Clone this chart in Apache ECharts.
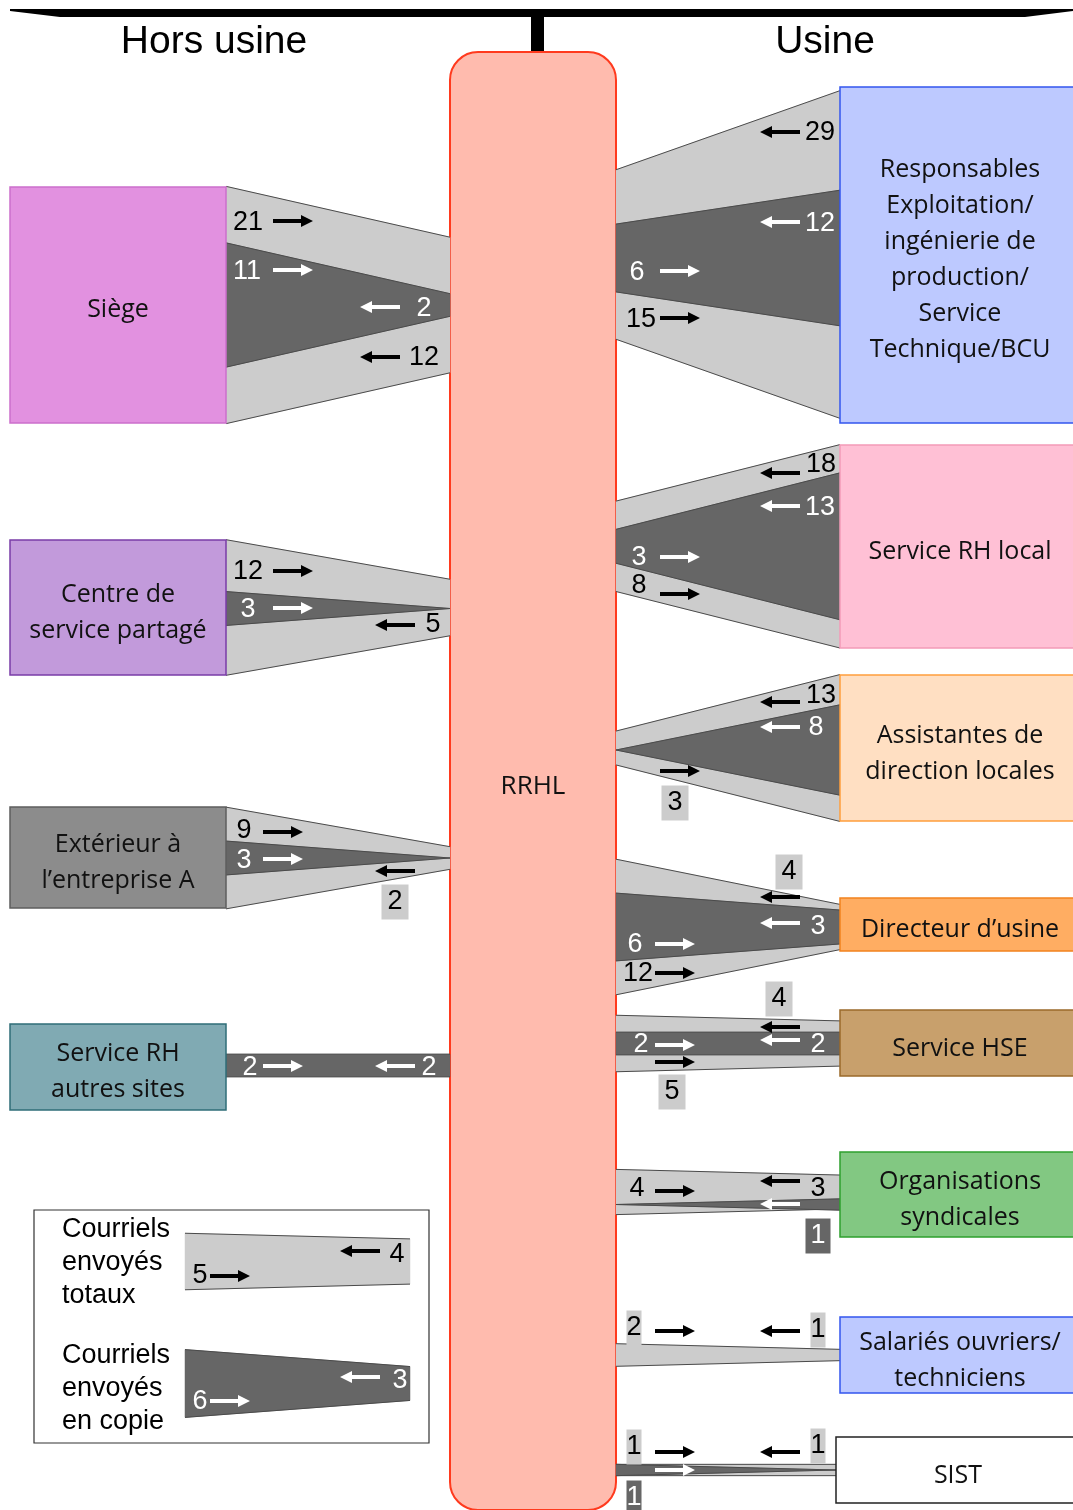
<!DOCTYPE html>
<html><head><meta charset="utf-8">
<script src="https://cdn.jsdelivr.net/npm/echarts@6/dist/echarts.min.js"></script>
<style>html,body{margin:0;padding:0;background:#fff}#chart{width:1073px;height:1510px}</style>
</head><body><div id="chart"></div>
<script>
// ================= DATA =================
const linkNodes = ['Siège','Centre de service partagé','Extérieur à l’entreprise A','Service RH autres sites',
  'Responsables Exploitation/ingénierie de production/Service Technique/BCU','Service RH local',
  'Assistantes de direction locales','Directeur d’usine','Service HSE','Organisations syndicales',
  'Salariés ouvriers/techniciens','SIST'];
// e-mails sent by the node to RRHL (total / in copy) and by RRHL to the node (total / in copy)
const totalFromNode = [21,12,9,0,29,18,13,4,4,3,1,1];
const totalFromRRHL = [12,5,2,0,15,8,3,12,5,4,2,1];
const copyFromNode  = [11,3,3,2,12,13,8,3,2,1,0,0];
const copyFromRRHL  = [2,0,0,2,6,3,0,6,2,0,0,1];
const legendTotal = [5,4];
const legendCopy = [6,3];
const nodeLabels = ['Siège','Centre de\nservice partagé','Extérieur à\nl’entreprise A','Service RH\nautres sites',
  'Responsables\nExploitation/\ningénierie de\nproduction/\nService\nTechnique/BCU','Service RH local',
  'Assistantes de\ndirection locales','Directeur d’usine','Service HSE','Organisations\nsyndicales',
  'Salariés ouvriers/\ntechniciens','SIST'];
const hubLabel = 'RRHL';
const zoneLabels = ['Hors usine','Usine'];
const legendLabels = ['Courriels\nenvoyés\ntotaux','Courriels\nenvoyés\nen copie'];

// ================= LAYOUT / STYLE =================
const K = 11.3; // axis units per e-mail
const TDY = 2;  // text baseline nudge
const boxLayout = [ // [x0,x1,y0,y1,labelX,labelY]
 [10,226,187,423,118,308],[10,226,540,675,118,611],[10,226,807,908,118,861],[10,226,1024,1110,118,1070],
 [840,1076,87,423,960,258],[840,1076,445,648,960,550],[840,1076,675,821,960,752],[840,1076,898,951,960,928],
 [840,1076,1010,1076,960,1047],[840,1076,1152,1237,960,1198],[840,1076,1317,1393,960,1359],[836,1076,1437,1503,958,1474]
];
const boxStyle = [
 ['#E291E0','#CC6FCB'],['#C29ADB','#7A3DA8'],['#8C8C8C','#5E5E5E'],['#80AAB3','#2F6E78'],
 ['#BDC9FF','#3355EE'],['#FFC0D5','#F49BB8'],['#FFDFC2','#FF9E3D'],['#FFAD62','#F2821E'],
 ['#C8A06C','#9A6A2A'],['#82C882','#2EA02E'],['#BDC9FF','#3355EE'],['#FFFFFF','#222222']
];
const linkLayout = [ // [nodeX, hubX, centerY light, centerY dark]
 [226,450,305,305],[226,450,607.5,608.5],[226,450,858,858],[226,450,1065.5,1065.5],
 [840,616,254.5,258],[840,616,546.3,546.3],[840,616,748,750],[840,616,927,927],
 [840,616,1043.5,1043.5],[840,616,1192,1204.5],[840,616,1355,1355],[836,616,1470,1470]
];
// [nodeTotal, hubTotal, nodeCopy, hubCopy] -> [textX,textY,arrowX,arrowY,boxType]
const labelLayout = [
 [[248,221,273,221,0],[424,356,360,357,0],[247,270,273,270,0],[424,307,360,307,0]],
 [[248,570,273,571,0],[433,623,375,625,0],[248,608,273,608,0],null],
 [[244,829,263,832,0],[395,900,375,871,1],[244,859,263,859,0],null],
 [null,null,[250,1066,263,1066,0],[429,1066,375,1066,0]],
 [[820,131,760,132,0],[641,318,660,318,0],[820,222,760,222,0],[637,271,660,271,0]],
 [[821,463,760,473,0],[639,584,660,594,0],[820,506,760,506,0],[639,556,660,557,0]],
 [[821,694,760,702,0],[675,801,660,771,1],[816,726,760,727,0],null],
 [[789,870,760,897,1],[638,972,655,973,0],[818,925,760,923,0],[635,943,655,944,0]],
 [[779,997,760,1027,1],[672,1090,655,1062,1],[818,1043,760,1040,0],[641,1043,655,1045,0]],
 [[818,1187,760,1181,0],[637,1187,655,1191,0],[818,1234,760,1204,2],null],
 [[818,1328,760,1331,3],[634,1326,655,1331,3],null,null],
 [[818,1444,760,1452,3],[634,1445,655,1452,3],null,[634,1496,655,1470,4]]
];
const hubBox = [450,616,52,1510];
const legendBox = [34,429,1210,1443];
const legendBands = [[185,410,1261.5],[185,410,1383.5]];
const legendLabelPos = [[200,1274,210,1276],[397,1253,340,1251],[200,1400,210,1401],[400,1379,340,1377]];
const LIGHT = '#CCCCCC', DARK = '#666666', EDGE = '#4A4A4A';
const NUM_FONT = '27px "Liberation Sans", Arial, sans-serif';
const NODE_FONT = '25px "Open Sans", "Noto Sans", sans-serif';
const BOX_PAD = {1:[2,6],2:[2,5],3:[2,0],4:[2,0]};

// ================= HELPERS =================
function bandShapes(api, x0, x1, yc, w0, w1, fill){
  if (w0 <= 0 && w1 <= 0) return [];
  const a = api.coord([x0, yc]), b = api.coord([x1, yc]);
  const h0 = api.size([0, w0*K])[1], h1 = api.size([0, w1*K])[1];
  const top = [[a[0], a[1]-h0/2],[b[0], b[1]-h1/2]];
  const bot = [[a[0], a[1]+h0/2],[b[0], b[1]+h1/2]];
  return [
    {type:'polygon', shape:{points:[top[0],top[1],bot[1],bot[0]]}, style:{fill:fill, stroke:fill, lineWidth:0.5}},
    {type:'polyline', shape:{points:top}, style:{stroke:EDGE, lineWidth:1, fill:null}},
    {type:'polyline', shape:{points:bot}, style:{stroke:EDGE, lineWidth:1, fill:null}}
  ];
}
function arrow(api, x, y, dir, color){
  const p = api.coord([x, y]); const L = 40, hl = 12, hw = 6, sw = 2;
  const xs = dir > 0 ? p[0] : p[0] + L, s = dir;
  const xe = xs + s*L, xh = xe - s*hl, yy = p[1];
  return {type:'polygon', shape:{points:[[xs,yy-sw],[xh,yy-sw],[xh,yy-hw],[xe,yy],[xh,yy+hw],[xh,yy+sw],[xs,yy+sw]]},
          style:{fill:color}};
}
function numText(api, x, y, txt, color, box){
  const p = api.coord([x, y + TDY]);
  const st = {x:p[0], y:p[1], text:txt, fill:color, font:NUM_FONT, align:'center', verticalAlign:'middle'};
  if (box) {
    st.backgroundColor = (box === 2 || box === 4) ? DARK : LIGHT;
    st.fill = (box === 2 || box === 4) ? '#FFFFFF' : '#000000';
    st.padding = BOX_PAD[box];
    st.lineHeight = 31;
  }
  return {type:'text', style:st};
}

const linkData = linkNodes.map((n,i)=>[i, totalFromNode[i], totalFromRRHL[i], copyFromNode[i], copyFromRRHL[i]]);

const chart = echarts.init(document.getElementById('chart'), null, {renderer:'canvas'});
chart.setOption({
  animation:false,
  grid:{left:0,right:0,top:0,bottom:0},
  xAxis:{type:'value',min:0,max:1073,show:false},
  yAxis:{type:'value',min:0,max:1510,inverse:true,show:false},
  graphic:[
    {type:'polygon', shape:{points:[[10,9],[1073,9],[1073,11],[1025,17],[60,17],[10,11]]}, style:{fill:'#000'}},
    {type:'rect', shape:{x:531,y:12,width:13,height:41}, style:{fill:'#000'}},
    {type:'text', x:214, y:42, style:{text:zoneLabels[0], font:'39px "Liberation Sans", Arial, sans-serif', fill:'#000', align:'center', verticalAlign:'middle'}},
    {type:'text', x:825, y:42, style:{text:zoneLabels[1], font:'39px "Liberation Sans", Arial, sans-serif', fill:'#000', align:'center', verticalAlign:'middle'}}
  ],
  series:[
    { // hub box
      type:'custom', coordinateSystem:'cartesian2d', clip:false, silent:true,
      data:[[0, 0]],
      renderItem:function(params, api){
        const a = api.coord([hubBox[0], hubBox[2]]), b = api.coord([hubBox[1], hubBox[3]]);
        const c = api.coord([(hubBox[0]+hubBox[1])/2, 785 + TDY]);
        return {type:'group', children:[
          {type:'rect', shape:{x:a[0], y:a[1], width:b[0]-a[0], height:b[1]-a[1], r:28}, style:{fill:'#FFBBAE', stroke:'#FF3A1E', lineWidth:2}},
          {type:'text', style:{x:c[0], y:c[1], text:hubLabel, font:'26px "Open Sans", "Noto Sans", sans-serif', fill:'#111', align:'center', verticalAlign:'middle'}}
        ]};
      }
    },
    { // links (bands)
      type:'custom', coordinateSystem:'cartesian2d', clip:false, silent:true,
      data:linkData,
      renderItem:function(params, api){
        const i = params.dataIndex; const [xN, xH, yL, yD] = linkLayout[i];
        const ch = [].concat(
          bandShapes(api, xN, xH, yL, api.value(1), api.value(2), LIGHT),
          bandShapes(api, xN, xH, yD, api.value(3), api.value(4), DARK)
        );
        return {type:'group', children:ch};
      }
    },
    { // nodes
      type:'custom', coordinateSystem:'cartesian2d', clip:false, silent:true,
      data:nodeLabels.map((n,i)=>[i, 0]),
      renderItem:function(params, api){
        const i = params.dataIndex; const L = boxLayout[i];
        const a = api.coord([L[0], L[2]]), b = api.coord([L[1], L[3]]), c = api.coord([L[4], L[5] + TDY]);
        return {type:'group', children:[
          {type:'rect', shape:{x:a[0], y:a[1], width:b[0]-a[0], height:b[1]-a[1]}, style:{fill:boxStyle[i][0], stroke:boxStyle[i][1], lineWidth:1.5}},
          {type:'text', style:{x:c[0], y:c[1], text:nodeLabels[i], font:NODE_FONT, lineHeight:36, fill:'#111', align:'center', verticalAlign:'middle'}}
        ]};
      }
    },
    { // link labels
      type:'custom', coordinateSystem:'cartesian2d', clip:false, silent:true,
      data:linkData,
      renderItem:function(params, api){
        const i = params.dataIndex; const [xN, xH] = linkLayout[i];
        const nodeDir = xN < xH ? 1 : -1;
        const dirs = [nodeDir, -nodeDir, nodeDir, -nodeDir];
        const colors = ['#000','#000','#FFF','#FFF'];
        const ch = [];
        labelLayout[i].forEach((s, k)=>{
          if (!s) return;
          const v = api.value(k+1);
          ch.push(arrow(api, s[2], s[3], dirs[k], colors[k]));
          ch.push(numText(api, s[0], s[1], String(v), colors[k], s[4]));
        });
        return {type:'group', children:ch};
      }
    },
    { // legend
      type:'custom', coordinateSystem:'cartesian2d', clip:false, silent:true,
      data:[[legendTotal[0], legendTotal[1], legendCopy[0], legendCopy[1]]],
      renderItem:function(params, api){
        const a = api.coord([legendBox[0], legendBox[2]]), b = api.coord([legendBox[1], legendBox[3]]);
        const ch = [{type:'rect', shape:{x:a[0], y:a[1], width:b[0]-a[0], height:b[1]-a[1]}, style:{fill:'#fff', stroke:'#333', lineWidth:1.2}}];
        const t1 = api.coord([62, 1261 + TDY]), t2 = api.coord([62, 1387 + TDY]);
        ch.push({type:'text', style:{x:t1[0], y:t1[1], text:legendLabels[0], font:NUM_FONT, lineHeight:33, fill:'#000', align:'left', verticalAlign:'middle'}});
        ch.push({type:'text', style:{x:t2[0], y:t2[1], text:legendLabels[1], font:NUM_FONT, lineHeight:33, fill:'#000', align:'left', verticalAlign:'middle'}});
        const lb = legendBands;
        ch.push.apply(ch, bandShapes(api, lb[0][0], lb[0][1], lb[0][2], api.value(0), api.value(1), LIGHT));
        ch.push.apply(ch, bandShapes(api, lb[1][0], lb[1][1], lb[1][2], api.value(2), api.value(3), DARK));
        const dirs = [1,-1,1,-1], cols = ['#000','#000','#FFF','#FFF'];
        legendLabelPos.forEach((s,k)=>{
          ch.push(arrow(api, s[2], s[3], dirs[k], cols[k]));
          ch.push(numText(api, s[0], s[1], String(api.value(k)), cols[k], 0));
        });
        return {type:'group', children:ch};
      }
    }
  ]
});
</script>
</body></html>
